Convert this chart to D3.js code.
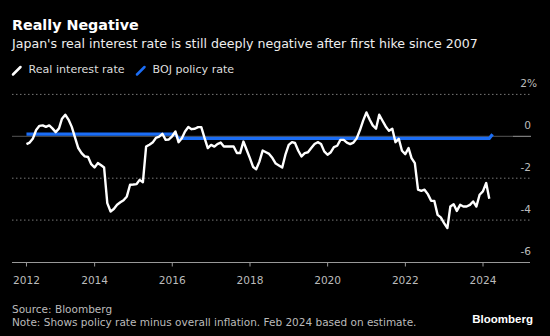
<!DOCTYPE html>
<html lang="en">
<head>
<meta charset="UTF-8">
<title>Really Negative</title>
<script src="https://d3js.org/d3.v7.min.js"></script>
<style>
  body { margin: 0; background: #000; }
  svg { display: block; background: #000; font-family: "DejaVu Sans", sans-serif; }
  .title { font-weight: bold; font-size: 14.3px; fill: #fff; }
  .subtitle { font-size: 12.6px; fill: #eee; }
  .legend { font-size: 11.1px; fill: #ddd; }
  .tick-label { font-size: 10.6px; fill: #bbb; }
  .foot { font-size: 10.5px; fill: #bbb; }
  .brand { font-family: "Liberation Sans", Arial, sans-serif; font-size: 11.5px; font-weight: bold; fill: #fff; }
</style>
</head>
<body>
<svg width="550" height="336"></svg>
<script>
// monthly real interest rate (policy rate minus CPI), end of month, Mar 2012 .. Feb 2024
const firstMonth = "2012-03";
const realRate = [
  -0.37, -0.30, -0.10, 0.30, 0.50, 0.52, 0.45, 0.52, 0.38, 0.20,                      // 2012 (Mar-Dec)
  0.38, 0.84, 1.03, 0.80, 0.45, -0.05, -0.56, -0.80, -0.96, -0.99, -1.33, -1.49,      // 2013
  -1.28, -1.37, -1.49, -3.19, -3.59, -3.47, -3.27, -3.15, -3.05, -2.87, -2.31, -2.30, // 2014
  -2.28, -2.08, -2.19, -0.49, -0.40, -0.30, -0.08, -0.02, 0.12, -0.17, -0.15, 0.00,   // 2015
  0.23, -0.28, -0.09, 0.23, 0.44, 0.34, 0.36, 0.44, 0.44, -0.09, -0.56, -0.41,        // 2016
  -0.49, -0.37, -0.30, -0.49, -0.49, -0.49, -0.49, -0.80, -0.80, -0.25, -0.64, -1.04, // 2017
  -1.47, -1.57, -1.20, -0.68, -0.76, -0.84, -1.04, -1.30, -1.39, -1.49, -0.88, -0.41, // 2018
  -0.28, -0.32, -0.69, -0.96, -0.80, -0.76, -0.56, -0.37, -0.28, -0.37, -0.72, -0.88, // 2019
  -0.76, -0.52, -0.45, -0.17, -0.17, -0.30, -0.37, -0.30, -0.10, 0.30, 0.75, 1.14,    // 2020
  0.79, 0.52, 0.36, 1.03, 0.74, 0.47, 0.26, 0.36, -0.28, -0.12, -0.69, -0.85,         // 2021
  -0.56, -1.04, -1.28, -2.55, -2.60, -2.55, -2.76, -3.08, -3.08, -3.75, -3.87, -4.14, // 2022
  -4.38, -3.35, -3.24, -3.56, -3.27, -3.35, -3.35, -3.27, -3.11, -3.35, -2.79, -2.63, // 2023
  -2.23, -2.98                                                                        // 2024 (Jan-Feb)
];
const policyMonths = ["2012-03", "2016-01", "2016-02", "2024-02", "2024-03"];
const policyRate = [0.1, 0.1, -0.1, -0.1, 0.1];
const yTicks = [-6, -4, -2, 0, 2];
const xTickYears = [2014, 2016, 2018, 2020, 2022, 2024];

const svg = d3.select("svg");
const parseMonth = d3.timeParse("%Y-%m");
const monthEnd = s => d3.timeDay.offset(d3.timeMonth.offset(parseMonth(s), 1), -1);

const start = parseMonth(firstMonth);
const realData = realRate.map((v, i) => ({
  date: d3.timeDay.offset(d3.timeMonth.offset(start, i + 1), -1), value: v
}));
const policyData = policyMonths.map((m, i) => ({ date: monthEnd(m), value: policyRate[i] }));

const left = 12, right = 531;
const x = d3.scaleTime()
  .domain([new Date(2012, 0, 1), new Date(2024, 0, 1)])
  .range([16.9, 483]);
const y = d3.scaleLinear().domain([-6, 2]).range([262, 94.4]);

// titles
svg.append("text").attr("class", "title").attr("x", 12).attr("y", 30).text("Really Negative");
svg.append("text").attr("class", "subtitle").attr("x", 12).attr("y", 48)
  .text("Japan's real interest rate is still deeply negative after first hike since 2007");

// legend
const legend = [
  { label: "Real interest rate", color: "#fff", x: 13 },
  { label: "BOJ policy rate", color: "#1b6df5", x: 137 }
];
legend.forEach(l => {
  svg.append("line").attr("x1", l.x).attr("y1", 74.5).attr("x2", l.x + 7.5).attr("y2", 67)
    .attr("stroke", l.color).attr("stroke-width", 2.5).attr("stroke-linecap", "round");
  svg.append("text").attr("class", "legend").attr("x", l.x + 15.5).attr("y", 73).text(l.label);
});

// grid
yTicks.forEach(t => {
  if (t === -6) return;
  if (t === 0) {
    svg.append("line").attr("x1", left).attr("x2", 513).attr("y1", y(0)).attr("y2", y(0))
      .attr("stroke", "#555").attr("stroke-width", 1);
    svg.append("line").attr("x1", 513).attr("x2", right).attr("y1", y(0)).attr("y2", y(0))
      .attr("stroke", "#999").attr("stroke-width", 1);
  } else {
    svg.append("line").attr("x1", left).attr("x2", right).attr("y1", y(t)).attr("y2", y(t))
      .attr("stroke", "#777").attr("stroke-width", 1).attr("stroke-dasharray", "1.5,2.5");
  }
});
svg.selectAll(".ylab").data(yTicks).enter().append("text")
  .attr("class", "tick-label").attr("text-anchor", "end")
  .attr("x", d => d === 2 ? 537 : right).attr("y", d => y(d) - 7.5)
  .text(d => d === 2 ? "2%" : d);

// x axis
svg.append("line").attr("x1", left).attr("x2", 530).attr("y1", 262.5).attr("y2", 262.5)
  .attr("stroke", "#999").attr("stroke-width", 1);
const xTicks = [realData[0].date].concat(xTickYears.map(yr => new Date(yr, 0, 1)));
svg.selectAll(".xtick").data(xTicks).enter().append("line")
  .attr("x1", d => x(d)).attr("x2", d => x(d)).attr("y1", 262.5).attr("y2", 266.5)
  .attr("stroke", "#999");
svg.selectAll(".xlab").data(xTicks).enter().append("text")
  .attr("class", "tick-label").attr("text-anchor", "middle")
  .attr("x", d => x(d)).attr("y", 284)
  .text(d3.timeFormat("%Y"));

// lines
const line = d3.line().x(d => x(d.date)).y(d => y(d.value));
svg.append("path").datum(policyData).attr("d", line)
  .attr("fill", "none").attr("stroke", "#1b6df5").attr("stroke-width", 3.2);
svg.append("path").datum(realData).attr("d", line)
  .attr("fill", "none").attr("stroke", "#fff").attr("stroke-width", 2.4)
  .attr("stroke-linejoin", "round");

// footer
svg.append("text").attr("class", "foot").attr("x", 12).attr("y", 312.5).text("Source: Bloomberg");
svg.append("text").attr("class", "foot").attr("x", 12).attr("y", 326)
  .text("Note: Shows policy rate minus overall inflation. Feb 2024 based on estimate.");
svg.append("text").attr("class", "brand").attr("x", 533).attr("y", 322.5)
  .attr("text-anchor", "end").text("Bloomberg");
</script>
</body>
</html>
